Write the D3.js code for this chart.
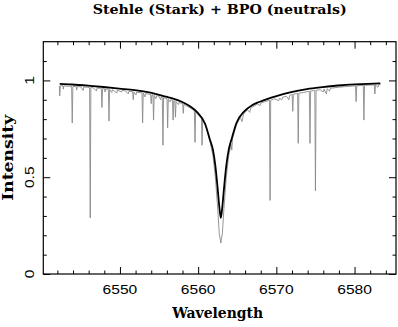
<!DOCTYPE html>
<html><head><meta charset="utf-8">
<script src="https://cdn.jsdelivr.net/npm/d3@7"></script>
<style>body{margin:0;background:#fff}svg{display:block}</style></head>
<body>
<script>
// Smooth model profile (Stehle Stark + BPO)
const modelWave = [6542.3,6543.9,6546.2,6547.9,6549.9,6551.9,6553.9,6555.9,6556.9,6557.9,6558.9,6559.9,6560.9,6561.5,6561.9,6562.2,6562.5,6562.7,6562.9,6563.1,6563.3,6563.6,6563.9,6564.3,6564.9,6565.9,6566.9,6567.9,6568.9,6569.9,6571.9,6573.9,6575.9,6578.4,6580.9,6583.3];
const modelFlux = [0.982,0.979,0.972,0.966,0.958,0.950,0.937,0.916,0.905,0.890,0.868,0.835,0.775,0.695,0.640,0.560,0.440,0.350,0.290,0.350,0.440,0.560,0.640,0.700,0.780,0.840,0.872,0.890,0.905,0.918,0.940,0.955,0.965,0.975,0.981,0.985];

// Observed spectrum (grey): [wavelength, intensity]
const obsSpectrum = [
[6542.25,.972],[6542.3,.92],[6542.38,.972],[6542.7,.973],[6542.76,.955],[6542.82,.972],[6543.3,.970],
[6543.82,.969],[6543.9,.78],[6543.98,.968],[6544.4,.969],[6544.47,.95],[6544.54,.968],[6545.0,.967],
[6545.3,.948],[6545.38,.966],[6545.8,.965],[6546.12,.963],[6546.2,.29],[6546.28,.963],[6546.6,.962],
[6547.0,.945],[6547.08,.961],[6547.5,.959],[6547.62,.958],[6547.7,.86],[6547.78,.958],[6548.02,.957],
[6548.1,.94],[6548.18,.956],[6548.52,.954],[6548.6,.79],[6548.68,.953],[6548.95,.938],[6549.03,.952],
[6549.6,.935],[6549.68,.950],[6550.2,.94],[6550.28,.948],[6550.7,.946],[6551.07,.93],[6551.15,.944],
[6551.62,.942],[6551.7,.90],[6551.78,.941],[6552.05,.925],[6552.13,.939],[6552.82,.936],[6552.9,.78],
[6552.98,.935],[6553.2,.915],[6553.28,.932],[6553.92,.927],[6554.0,.88],[6554.08,.926],[6554.22,.925],
[6554.3,.795],[6554.38,.923],[6554.6,.905],[6554.68,.921],[6555.0,.918],[6555.2,.90],[6555.28,.915],
[6555.42,.913],[6555.5,.665],[6555.58,.911],[6555.8,.908],[6556.02,.906],[6556.1,.755],[6556.18,.903],
[6556.4,.89],[6556.48,.900],[6556.72,.897],[6556.8,.795],[6556.88,.895],[6557.02,.893],[6557.1,.81],
[6557.18,.891],[6557.5,.875],[6557.58,.886],[6558.02,.880],[6558.1,.83],[6558.18,.877],[6558.6,.866],
[6559.1,.855],[6559.52,.842],[6559.6,.68],[6559.68,.838],[6560.0,.822],[6560.42,.805],[6560.5,.665],
[6560.58,.798],[6561.0,.76],[6561.5,.685],[6561.9,.61],[6562.2,.50],[6562.5,.34],[6562.7,.21],
[6562.9,.16],[6563.1,.21],[6563.3,.34],[6563.6,.50],[6563.9,.61],[6564.2,.67],[6564.3,.64],[6564.4,.70],
[6564.9,.77],[6565.4,.81],[6565.6,.787],[6565.8,.826],[6566.3,.848],[6566.6,.835],[6566.7,.855],
[6567.0,.864],[6567.6,.878],[6567.9,.87],[6568.0,.882],[6568.5,.89],[6569.12,.897],[6569.2,.38],
[6569.28,.898],[6569.8,.905],[6570.3,.895],[6570.4,.908],[6570.7,.90],[6570.8,.913],[6571.3,.918],
[6571.6,.90],[6571.7,.922],[6572.02,.928],[6572.1,.84],[6572.18,.929],[6572.72,.933],[6572.8,.675],
[6572.88,.934],[6573.5,.938],[6574.22,.944],[6574.3,.675],[6574.38,.945],[6574.92,.948],[6575.0,.43],
[6575.08,.949],[6575.6,.952],[6576.0,.94],[6576.1,.955],[6576.4,.93],[6576.5,.957],[6576.8,.945],
[6576.9,.959],[6577.4,.962],[6578.0,.965],[6578.8,.968],[6579.5,.970],[6580.12,.972],[6580.2,.89],
[6580.28,.972],[6580.7,.973],[6581.12,.974],[6581.2,.795],[6581.28,.975],[6581.9,.976],[6582.52,.977],
[6582.6,.93],[6582.68,.977],[6583.0,.965],[6583.1,.978],[6583.3,.978]
];

const xMajor = [6550,6560,6570,6580];
const xMinor = [6542,6544,6546,6548,6552,6554,6556,6558,6562,6564,6566,6568,6572,6574,6576,6578,6582,6584];
const yMajor = [0,0.5,1];
const yMajorLabels = ["0","0.5","1"];
const yMinor = [0.1,0.2,0.3,0.4,0.6,0.7,0.8,0.9,1.1];
const titleText = "Stehle (Stark) + BPO (neutrals)";
const xLabel = "Wavelength";
const yLabel = "Intensity";

const W = 398, H = 327;
const L = 43.3, R = 396, T = 41.7, B = 274;
const svg = d3.select("body").append("svg").attr("width", W).attr("height", H);
const x = d3.scaleLinear().domain([6540.2, 6585.3]).range([L, R]);
const y = d3.scaleLinear().domain([0, 1.2]).range([B, T]);

svg.append("clipPath").attr("id","c").append("rect")
  .attr("x", L).attr("y", T).attr("width", R-L).attr("height", B-T);

const mod = modelWave.map((w,i)=>[w, modelFlux[i]]);

const g = svg.append("g").attr("clip-path","url(#c)");
g.append("path").datum(obsSpectrum)
  .attr("d", d3.line().x(d=>x(d[0])).y(d=>y(d[1])))
  .attr("fill","none").attr("stroke","#8a8a8a").attr("stroke-width",0.9);
g.append("path").datum(mod)
  .attr("d", d3.line().curve(d3.curveMonotoneX).x(d=>x(d[0])).y(d=>y(d[1])))
  .attr("fill","none").attr("stroke","#000").attr("stroke-width",1.8);

// Axes with inward ticks on all four sides
const major = 7, minor = 3.5;
function ticks(axis, vals, size, tx, ty) {
  svg.append("g").attr("transform",`translate(${tx},${ty})`)
    .call(axis.tickValues(vals).tickSize(size).tickFormat(""))
    .call(a=>a.select(".domain").remove());
}
ticks(d3.axisTop(x), xMajor, major, 0, B);
ticks(d3.axisTop(x), xMinor, minor, 0, B);
ticks(d3.axisBottom(x), xMajor, major, 0, T);
ticks(d3.axisBottom(x), xMinor, minor, 0, T);
ticks(d3.axisRight(y), yMajor, major, L, 0);
ticks(d3.axisRight(y), yMinor, minor, L, 0);
ticks(d3.axisLeft(y), yMajor, major, R, 0);
ticks(d3.axisLeft(y), yMinor, minor, R, 0);
svg.selectAll(".tick line").attr("stroke","#000").attr("stroke-width",1);

svg.append("rect").attr("x",L).attr("y",T).attr("width",R-L).attr("height",B-T)
  .attr("fill","none").attr("stroke","#000").attr("stroke-width",1.2);

// Tick labels
const tf = "'Liberation Sans', Arial, sans-serif";
xMajor.forEach(v=>{
  svg.append("g").attr("transform",`translate(${x(v)},293.5) scale(1.3,1)`)
    .append("text").attr("text-anchor","middle").attr("font-family",tf)
    .attr("font-size",12).attr("fill","#000").text(String(v));
});
yMajor.forEach((v,i)=>{
  svg.append("g").attr("transform",`translate(34,${y(v)}) rotate(-90) scale(1.3,1)`)
    .append("text").attr("text-anchor","middle").attr("font-family",tf)
    .attr("font-size",12).attr("fill","#000").text(yMajorLabels[i]);
});

const sf = "'DejaVu Serif', serif";
svg.append("text").attr("x",(L+R)/2).attr("y",14).attr("text-anchor","middle")
  .attr("font-family",sf).attr("font-weight","bold").attr("font-size",12)
  .attr("textLength",254).attr("lengthAdjust","spacingAndGlyphs").text(titleText);
svg.append("text").attr("x",(L+R)/2-2).attr("y",318).attr("text-anchor","middle")
  .attr("font-family",sf).attr("font-weight","bold").attr("font-size",14)
  .attr("textLength",91).attr("lengthAdjust","spacingAndGlyphs").text(xLabel);
svg.append("text").attr("transform",`translate(13,${(T+B)/2}) rotate(-90)`)
  .attr("text-anchor","middle")
  .attr("font-family",sf).attr("font-weight","bold").attr("font-size",14)
  .attr("textLength",86).attr("lengthAdjust","spacingAndGlyphs").text(yLabel);
</script>
</body></html>
